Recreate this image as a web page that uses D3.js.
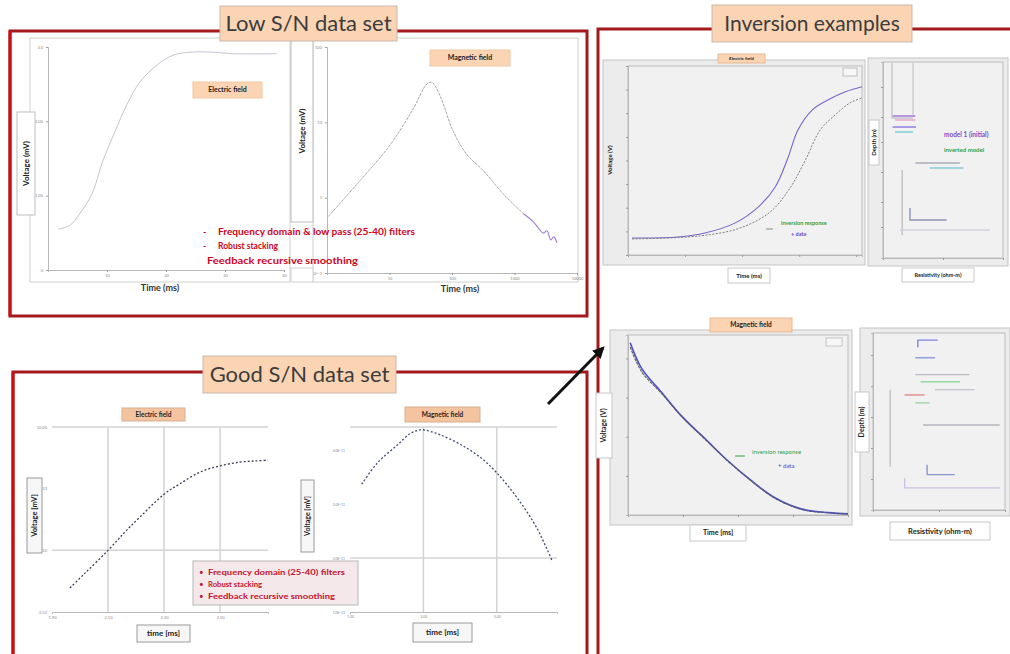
<!DOCTYPE html>
<html>
<head>
<meta charset="utf-8">
<title>Low / good S/N data sets and inversion examples</title>
<script src="https://d3js.org/d3.v7.min.js"></script>
<style>
body { margin: 0; background: #fff; }
svg { display: block; font-family: Lato, "Open Sans", sans-serif; }
</style>
</head>
<body>
<script>
// ---- data ----
// low S/N, electric field
let lowElecTime = [1.7, 3.7, 5.4, 7.5, 9.3, 11.4, 13.4, 15.6, 18.5, 21.2, 24.1, 28.0, 31.4, 38.8];
let lowElecVolt = [0.55, 0.60, 0.76, 1.03, 1.47, 1.87, 2.23, 2.53, 2.76, 2.89, 2.93, 2.93, 2.91, 2.91];
let lowElecXTicks = ['10', '20', '30', '40'];
let lowElecYTicks = ['0', '1.00', '2.00', '3.0'];

// low S/N, magnetic field
let lowMagTime = [0.02, 0.48, 1.01, 1.38, 1.60, 1.68, 1.81, 2.02, 2.24, 2.50, 2.82, 3.14, 3.30, 3.38, 3.46, 3.52, 3.58, 3.63, 3.68];
let lowMagVolt = [0.75, 1.18, 1.70, 2.18, 2.51, 2.53, 2.35, 1.88, 1.57, 1.36, 1.05, 0.79, 0.68, 0.60, 0.53, 0.56, 0.44, 0.48, 0.40];
let lowMagXTicks = ['10', '100', '1000', '10000'];
let lowMagYTicks = ['10^-1', '1', '10', '100'];

// good S/N, electric field
let goodElecTime = [1.964, 2.018, 2.100, 2.161, 2.214, 2.300, 2.357, 2.429, 2.500, 2.571, 2.625, 2.671];
let goodElecVolt = [0.39, 0.63, 1.00, 1.30, 1.54, 1.91, 2.08, 2.27, 2.37, 2.43, 2.45, 2.46];
let goodElecXTicks = ['1.90', '2.10', '2.30', '2.50'];
let goodElecYTicks = ['-2.22', '0.10', '3.33', '10.00'];

// good S/N, magnetic field
let goodMagTime = [0.16, 0.37, 0.64, 0.82, 0.93, 0.99, 1.22, 1.54, 1.81, 2.00, 2.27, 2.54, 2.75];
let goodMagVolt = [2.37, 2.76, 3.09, 3.31, 3.37, 3.38, 3.29, 3.08, 2.83, 2.58, 2.13, 1.57, 0.96];
let goodMagXTicks = ['1.00', '2.00', '3.00'];
let goodMagYTicks = ['1.0E-11', '2.0E-11', '3.0E-11', '4.0E-11'];

// inversion, electric field (model response and measured data)
let invElecTime = [0.07, 0.88, 1.35, 1.88, 2.28, 2.58, 2.79, 2.98, 3.23, 3.51, 3.81, 4.10];
let invElecModel = [0.72, 0.76, 0.93, 1.36, 2.03, 2.88, 4.03, 5.30, 6.14, 6.57, 6.91, 7.12];
let invElecDataTime = [0.07, 1.26, 1.96, 2.49, 2.84, 3.11, 3.37, 3.63, 3.89, 4.10];
let invElecData = [0.68, 0.81, 1.14, 1.82, 2.84, 4.03, 5.30, 5.93, 6.44, 6.65];

// inversion, magnetic field
let invMagTime = [0.04, 0.25, 0.62, 0.98, 1.40, 1.82, 2.25, 2.67, 3.16, 3.64, 4.00];
let invMagData = [4.29, 3.66, 3.09, 2.51, 1.94, 1.37, 0.86, 0.43, 0.14, 0.06, 0.03];
let invMagModel = [4.40, 3.74, 3.12, 2.52, 1.95, 1.38, 0.87, 0.44, 0.15, 0.06, 0.03];

// resistivity / depth models (top panel)
let resTopRes = [[7.5, 7.5, 25], [25, 25], [8, 27], [10, 27], [8, 27.5], [10, 25], [27, 64], [39, 67], [16, 16], [22.5, 22.5, 53], [14, 89]];
let resTopDepth = [[1, 56, 56], [1, 53], [54, 54], [58, 58], [65, 65], [70, 70], [101, 101], [106, 106], [108, 173], [146, 158, 158], [168, 168]];
let resTopColors = ['#c4c4cc', '#cacad2', '#a070d4', '#e8a0c8', '#8a78dc', '#78ccd6', '#a8acb4', '#80ccd4', '#c0c0c0', '#8a94b4', '#d0d0da'];

// resistivity / depth models (bottom panel)
let resBotRes = [[34, 34, 49], [32, 47], [32, 73], [36, 66], [47, 77], [24, 39], [32, 43], [13, 13], [38, 96], [41, 41, 62], [24, 24, 96]];
let resBotDepth = [[16, 8, 8], [28, 28], [47, 47], [55, 55], [64, 64], [70, 70], [79, 79], [64, 151], [104, 104], [149, 160, 160], [164, 175, 175]];
let resBotColors = ['#7a86dc', '#8a98dc', '#bcbcc4', '#96d8a0', '#c4c4cc', '#e48888', '#9cd8ac', '#c0c0c0', '#b4b4bc', '#8a94cc', '#ccc0e0'];

let lowBullets = ['Frequency domain & low pass (25-40) filters', 'Robust stacking', 'Feedback recursive smoothing'];
let goodBullets = ['Frequency domain (25-40) filters', 'Robust stacking', 'Feedback recursive smoothing'];

// ---- drawing ----
const frameRed = '#a3191c';
const peach = '#fbd4b4';
let svg = d3.select('body').append('svg').attr('width', 1010).attr('height', 654);

svg.append('defs').append('marker').attr('id', 'head').attr('viewBox', '0 0 10 10')
    .attr('refX', 8).attr('refY', 5).attr('markerWidth', 4).attr('markerHeight', 4).attr('orient', 'auto')
    .append('path').attr('d', 'M0,0L10,5L0,10z').attr('fill', '#111');

function box(x, y, w, h, fill, stroke) {
    return svg.append('rect').attr('x', x).attr('y', y).attr('width', w).attr('height', h)
        .attr('fill', fill).attr('stroke', stroke).attr('stroke-width', 1);
}

function label(x, y, w, h, text, size, opts) {
    opts = opts || {};
    box(x, y, w, h, opts.fill || '#fff', opts.stroke || '#c2c2c2');
    let t = svg.append('text').attr('text-anchor', 'middle').attr('dy', '0.35em')
        .attr('font-size', size).attr('font-weight', opts.weight || 'bold').attr('fill', opts.color || '#222').text(text);
    if (opts.rotate) t.attr('transform', 'translate(' + (x + w / 2) + ',' + (y + h / 2) + ') rotate(-90)');
    else t.attr('x', x + w / 2).attr('y', y + h / 2);
    return t;
}

function drawAxes(x, y, xt, xl, yt, yl, size, hideLeft) {
    let ax = svg.append('g').attr('transform', 'translate(0,' + y.range()[0] + ')')
        .call(d3.axisBottom(x).tickValues(xt).tickFormat((d, i) => xl[i]).tickSize(2).tickPadding(2));
    let ay = svg.append('g').attr('transform', 'translate(' + x.range()[0] + ',0)')
        .call(d3.axisLeft(y).tickValues(yt).tickFormat((d, i) => yl[i]).tickSize(2).tickPadding(3));
    [ax, ay].forEach(a => {
        a.select('.domain').attr('stroke', '#b8b8b8');
        a.selectAll('.tick line').attr('stroke', '#9a9a9a');
        a.selectAll('text').attr('font-size', size).attr('fill', '#8a8a8a').attr('font-family', 'Lato, sans-serif');
    });
    if (hideLeft) { ay.select('.domain').remove(); ay.selectAll('.tick line').remove(); ax.selectAll('.tick line').remove(); }
}

function curve(x, y, xs, ys, color, width, dash) {
    let line = d3.line().x(d => x(d[0])).y(d => y(d[1])).curve(d3.curveCatmullRom);
    let p = svg.append('path').datum(xs.map((v, i) => [v, ys[i]])).attr('d', line)
        .attr('fill', 'none').attr('stroke', color).attr('stroke-width', width);
    if (dash) p.attr('stroke-dasharray', dash);
    return p;
}

function steps(x, y, resArr, depthArr, colors) {
    let line = d3.line().x(d => x(d[0])).y(d => y(d[1]));
    resArr.forEach((r, k) => {
        svg.append('path').datum(r.map((v, i) => [v, depthArr[k][i]])).attr('d', line)
            .attr('fill', 'none').attr('stroke', colors[k]).attr('stroke-width', 1.4);
    });
}

// frames
svg.append('rect').attr('x', 10).attr('y', 31).attr('width', 577).attr('height', 285).attr('fill', 'none').attr('stroke', frameRed).attr('stroke-width', 3);
svg.append('line').attr('x1', 10).attr('x2', 10).attr('y1', 31).attr('y2', 316).attr('stroke', '#c80f14').attr('stroke-width', 3);
svg.append('rect').attr('x', 13).attr('y', 372).attr('width', 574).attr('height', 300).attr('fill', 'none').attr('stroke', frameRed).attr('stroke-width', 3);
svg.append('line').attr('x1', 13).attr('x2', 13).attr('y1', 372).attr('y2', 654).attr('stroke', '#c80f14').attr('stroke-width', 3);
svg.append('rect').attr('x', 598).attr('y', 29).attr('width', 450).attr('height', 700).attr('fill', 'none').attr('stroke', frameRed).attr('stroke-width', 3);

// ---------- low S/N : electric ----------
box(30, 38, 260, 244, '#fff', '#d0d0d0');
let xLE = d3.scaleLinear().domain([0, 40]).range([48, 284]);
let yLE = d3.scaleLinear().domain([0, 3]).range([270, 47]);
drawAxes(xLE, yLE, [10, 20, 30, 40], lowElecXTicks, [0, 1, 2, 3], lowElecYTicks, 4);
curve(xLE, yLE, lowElecTime, lowElecVolt, '#c2c6d0', 1);
label(193, 82, 69, 16, 'Electric field', 7, { fill: peach, stroke: '#f3c8a4' });
label(17, 112, 18, 103, 'Voltage (mV)', 8, { rotate: true, stroke: '#bdbdbd' });
svg.append('text').attr('x', 160).attr('y', 291).attr('text-anchor', 'middle').attr('font-size', 9).attr('font-weight', 'bold').attr('fill', '#333').text('Time (ms)');

// ---------- low S/N : magnetic ----------
box(313, 38, 265, 244, '#fff', '#d0d0d0');
let xLM = d3.scaleLinear().domain([0, 4]).range([327, 577]);
let yLM = d3.scaleLinear().domain([0, 3]).range([273, 47]);
drawAxes(xLM, yLM, [1, 2, 3, 4], lowMagXTicks, [0, 1, 2, 3], lowMagYTicks, 4);
curve(xLM, yLM, lowMagTime.slice(0, 12), lowMagVolt.slice(0, 12), '#a8a4b4', 1, '3,1');
curve(xLM, yLM, lowMagTime.slice(11), lowMagVolt.slice(11), '#a47cd0', 1.1);
label(291, 40, 22, 182, 'Voltage (mV)', 8, { rotate: true, stroke: '#bdbdbd' });
box(291, 268, 22, 14, '#fff', '#d0d0d0');
label(430, 50, 80, 16, 'Magnetic field', 7, { fill: peach, stroke: '#f3c8a4' });
svg.append('text').attr('x', 460).attr('y', 292).attr('text-anchor', 'middle').attr('font-size', 9).attr('font-weight', 'bold').attr('fill', '#333').text('Time (ms)');

// low S/N processing notes
lowBullets.forEach((t, i) => {
    let yy = 232 + i * 14;
    if (i < 2) svg.append('text').attr('x', 203).attr('y', yy).attr('dy', '0.35em').attr('font-size', 9).attr('font-weight', 'bold').attr('fill', '#d0021b').text('-');
    svg.append('text').attr('x', i < 2 ? 218 : 207).attr('y', yy).attr('dy', '0.35em')
        .attr('font-size', i < 2 ? 8.5 : 10).attr('font-weight', 'bold').attr('fill', '#d0021b')
        .attr('textLength', [197, 60, 151][i]).attr('lengthAdjust', 'spacingAndGlyphs').text(t);
});

// ---------- good S/N : electric ----------
let xGE = d3.scaleLinear().domain([1.9, 2.671]).range([52, 268]);
let yGE = d3.scaleLinear().domain([0, 3]).range([612, 427]);
[2.1, 2.3, 2.5].forEach(v => svg.append('line').attr('x1', xGE(v)).attr('x2', xGE(v)).attr('y1', 427).attr('y2', 612).attr('stroke', '#d3d3d3').attr('stroke-width', 1.5));
[1, 3].forEach(v => svg.append('line').attr('x1', 52).attr('x2', 268).attr('y1', yGE(v)).attr('y2', yGE(v)).attr('stroke', '#d3d3d3').attr('stroke-width', 1.5));
drawAxes(xGE, yGE, [1.9, 2.1, 2.3, 2.5], goodElecXTicks, [0, 1, 2, 3], goodElecYTicks, 4, true);
curve(xGE, yGE, goodElecTime, goodElecVolt, '#3b3f55', 1.3, '2,2');
label(122, 408, 63, 13, 'Electric field', 6.5, { fill: '#f4c4a0', stroke: '#d8b090' });
label(27, 478, 15, 75, 'Voltage [mV]', 7.5, { rotate: true, fill: '#f7f7f7', stroke: '#9a9a9a' });
label(137, 625, 53, 17, 'time [ms]', 8, { fill: '#f7f7f7', stroke: '#9a9a9a' });

// ---------- good S/N : magnetic ----------
let xGM = d3.scaleLinear().domain([0, 2.82]).range([350, 557]);
let yGM = d3.scaleLinear().domain([0, 3.43]).range([612, 427]);
[1, 2].forEach(v => svg.append('line').attr('x1', xGM(v)).attr('x2', xGM(v)).attr('y1', 427).attr('y2', 612).attr('stroke', '#d3d3d3').attr('stroke-width', 1.5));
[1, 3.43].forEach(v => svg.append('line').attr('x1', 350).attr('x2', 557).attr('y1', yGM(v)).attr('y2', yGM(v)).attr('stroke', '#d3d3d3').attr('stroke-width', 1.5));
drawAxes(xGM, yGM, [0, 1, 2], goodMagXTicks, [0, 1, 2, 3], goodMagYTicks, 3.5, true);
curve(xGM, yGM, goodMagTime, goodMagVolt, '#3f4a70', 1.3, '2,2');
label(405, 407, 75, 15, 'Magnetic field', 6.5, { fill: '#f4c4a0', stroke: '#d8b090' });
label(301, 480, 13, 72, 'Voltage [mV]', 7, { rotate: true, fill: '#f7f7f7', stroke: '#9a9a9a' });
label(413, 623, 59, 19, 'time [ms]', 8, { fill: '#f7f7f7', stroke: '#9a9a9a' });

// good S/N processing notes
box(193, 561, 165, 44, '#f4e8ea', '#b8b8b8');
goodBullets.forEach((t, i) => {
    let yy = 572 + i * 12;
    svg.append('text').attr('x', 199).attr('y', yy).attr('dy', '0.35em').attr('font-size', 8).attr('fill', '#c8102e').text('•');
    svg.append('text').attr('x', 208).attr('y', yy).attr('dy', '0.35em').attr('font-size', 7.5).attr('font-weight', 'bold').attr('fill', '#c8102e')
        .attr('textLength', [137, 54, 127][i]).attr('lengthAdjust', 'spacingAndGlyphs').text(t);
});

// ---------- inversion : electric ----------
box(603, 60, 262, 205, '#ececec', '#c4c4c4');
box(628, 66, 234, 189, '#f1f1f1', '#bcbcbc');
let xIE = d3.scaleLinear().domain([0, 4.1]).range([628, 862]);
let yIE = d3.scaleLinear().domain([0, 8]).range([255, 66]);
drawAxes(xIE, yIE, [0, 1, 2, 3, 4], ['', '', '', '', ''], [0, 1, 2, 3, 4, 5, 6, 7, 8], ['', '', '', '', '', '', '', '', ''], 3);
curve(xIE, yIE, invElecTime, invElecModel, '#7c62cc', 1.1);
curve(xIE, yIE, invElecDataTime, invElecData, '#7a7a84', 1, '2,1.5');
label(718, 54, 47, 9, 'Electric field', 4.5, { fill: peach, stroke: '#e8b890' });
svg.append('text').attr('transform', 'translate(612,160) rotate(-90)').attr('text-anchor', 'middle').attr('font-size', 6).attr('font-weight', 'bold').attr('fill', '#222').text('Voltage (V)');
label(728, 268, 42, 15, 'Time (ms)', 6, { stroke: '#c8c8c8' });
svg.append('line').attr('x1', 766).attr('x2', 773).attr('y1', 229).attr('y2', 229).attr('stroke', '#888');
svg.append('text').attr('x', 781).attr('y', 225).attr('font-size', 5.5).attr('font-weight', 'bold').attr('fill', '#2ea043').text('inversion response');
svg.append('text').attr('x', 791).attr('y', 236).attr('font-size', 5.5).attr('font-weight', 'bold').attr('fill', '#6a3fc0').text('+ data');
box(843, 68, 14, 8, '#f7f7f7', '#bdbdbd');

// ---------- inversion : resistivity (top) ----------
box(868, 58, 140, 208, '#ececec', '#c4c4c4');
box(883, 62, 120, 196, '#f1f1f1', '#bcbcbc');
let xRT = d3.scaleLinear().domain([0, 100]).range([883, 1003]);
let yRT = d3.scaleLinear().domain([0, 196]).range([62, 258]);
drawAxes(xRT, d3.scaleLinear().domain([196, 0]).range([258, 62]), [0, 50, 100], ['', '', ''], [25, 55, 80, 110, 140, 165], ['', '', '', '', '', ''], 3);
steps(xRT, yRT, resTopRes, resTopDepth, resTopColors);
label(869, 120, 10, 45, 'Depth (m)', 6, { rotate: true, stroke: '#c8c8c8' });
label(902, 268, 72, 14, 'Resistivity (ohm-m)', 5.5, { stroke: '#c8c8c8' });
svg.append('text').attr('x', 944).attr('y', 137).attr('font-size', 6.5).attr('font-weight', 'bold').attr('fill', '#7a4cc8').text('model 1 (initial)');
svg.append('text').attr('x', 944).attr('y', 152).attr('font-size', 6).attr('font-weight', 'bold').attr('fill', '#2ea043').text('inverted model');

// ---------- inversion : magnetic ----------
box(610, 330, 242, 195, '#ececec', '#c4c4c4');
box(628, 335, 220, 180, '#f1f1f1', '#bcbcbc');
let xIM = d3.scaleLinear().domain([0, 4]).range([628, 848]);
let yIM = d3.scaleLinear().domain([0, 4.6]).range([515, 335]);
drawAxes(xIM, yIM, [0, 1, 2, 3, 4], ['', '', '', '', ''], [1, 2, 3, 4], ['', '', '', ''], 3);
curve(xIM, yIM, invMagTime, invMagModel, '#4b4fc8', 1.6);
curve(xIM, yIM, invMagTime, invMagData, '#5a5a66', 1.1, '3,1');
label(710, 318, 82, 14, 'Magnetic field', 6.5, { fill: peach, stroke: '#e8b890' });
label(596, 393, 16, 65, 'Voltage (V)', 7, { rotate: true, fill: '#fff', stroke: '#c8c8c8' });
label(690, 525, 56, 16, 'Time [ms]', 7, { stroke: '#c8c8c8' });
svg.append('line').attr('x1', 735).attr('x2', 745).attr('y1', 456).attr('y2', 456).attr('stroke', '#2ea043');
svg.append('text').attr('x', 752).attr('y', 454).attr('font-size', 6).attr('fill', '#2ea043').text('inversion response');
svg.append('text').attr('x', 778).attr('y', 468).attr('font-size', 6).attr('fill', '#4b3fc0').text('+ data');
box(826, 338, 16, 8, '#f7f7f7', '#c4c4c4');

// ---------- inversion : resistivity (bottom) ----------
box(860, 328, 150, 188, '#ececec', '#c4c4c4');
box(873, 333, 132, 177, '#f1f1f1', '#bcbcbc');
let xRB = d3.scaleLinear().domain([0, 100]).range([873, 1005]);
let yRB = d3.scaleLinear().domain([0, 200]).range([333, 510]);
drawAxes(xRB, d3.scaleLinear().domain([200, 0]).range([510, 333]), [0, 50, 100], ['', '', ''], [25, 60, 95, 130, 165], ['', '', '', '', ''], 3);
steps(xRB, yRB, resBotRes, resBotDepth, resBotColors);
label(855, 392, 14, 60, 'Depth (m)', 7, { rotate: true, stroke: '#c8c8c8' });
label(890, 522, 100, 18, 'Resistivity (ohm-m)', 7.5, { stroke: '#c8c8c8' });

// ---------- section titles ----------
label(220, 6, 177, 35, 'Low S/N data set', 22, { fill: peach, stroke: '#c9b9aa', weight: 'normal', color: '#3c3c3c' });
label(203, 356, 193, 37, 'Good S/N data set', 22, { fill: peach, stroke: '#c9b9aa', weight: 'normal', color: '#3c3c3c' });
label(712, 5, 200, 37, 'Inversion examples', 21, { fill: peach, stroke: '#c9b9aa', weight: 'normal', color: '#3c3c3c' });

// arrow from data sets to inversion
svg.append('line').attr('x1', 548).attr('y1', 404).attr('x2', 603).attr('y2', 348)
    .attr('stroke', '#111').attr('stroke-width', 3).attr('marker-end', 'url(#head)');
</script>
